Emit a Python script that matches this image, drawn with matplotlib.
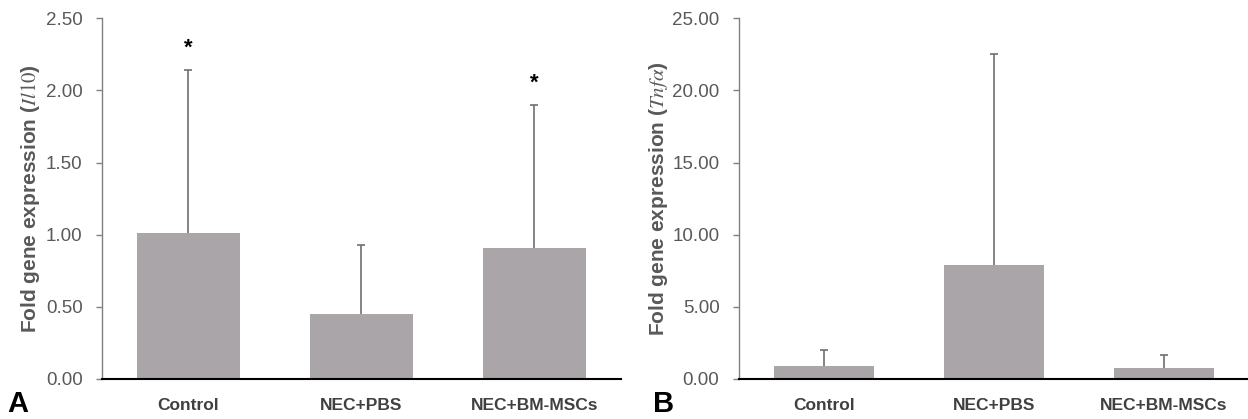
import matplotlib
matplotlib.use('Agg')
import matplotlib.pyplot as plt
import numpy as np

# Data
groups = ['Control', 'NEC+PBS', 'NEC+BM-MSCs']

il10_mean = [1.01, 0.45, 0.91]
il10_upper = [2.14, 0.93, 1.90]
il10_star = [2.29, None, 2.05]
il10_ticks = [0.0, 0.5, 1.0, 1.5, 2.0, 2.5]

tnfa_mean = [0.92, 7.92, 0.78]
tnfa_upper = [2.00, 22.49, 1.66]
tnfa_ticks = [0.0, 5.0, 10.0, 15.0, 20.0, 25.0]

plt.rcParams['font.family'] = ['Liberation Sans', 'DejaVu Sans']
plt.rcParams['mathtext.fontset'] = 'stix'

bar_color = '#a9a5a8'
err_color = '#707070'
tick_color = '#595959'
label_color = '#404040'

fig = plt.figure(figsize=(12.48, 4.19), dpi=100)
ax1 = fig.add_axes([0.0817, 0.0955, 0.4159, 0.861])
ax2 = fig.add_axes([0.5921, 0.0955, 0.4087, 0.861])


def draw_panel(ax, means, upper, ticks, ylabel, stars=None):
    x = np.arange(len(groups))
    ax.bar(x, means, width=0.59, color=bar_color, zorder=2)
    lower_err = np.zeros(len(means))
    upper_err = np.array(upper) - np.array(means)
    eb = ax.errorbar(x, means, yerr=[lower_err, upper_err], fmt='none',
                     ecolor=err_color, elinewidth=1.2, capsize=2.6,
                     capthick=1.2, zorder=3)
    # only the upper cap is shown
    eb[1][0].set_visible(False)
    if stars is not None:
        for xi, s in zip(x, stars):
            if s is not None:
                ax.text(xi, s, '*', ha='center', va='center', fontsize=16,
                        fontweight='bold', color='black')
    ax.set_xlim(-0.5, 2.5)
    ax.set_ylim(ticks[0], ticks[-1])
    ax.set_yticks(ticks)
    ax.set_yticklabels(['%.2f' % t for t in ticks], fontsize=13.5, color=tick_color)
    ax.set_xticks(x)
    ax.set_xticklabels(groups, fontsize=12.5, fontweight='bold', color=label_color)
    ax.tick_params(axis='x', length=0, pad=14)
    ax.tick_params(axis='y', length=4, width=1, color='#808080', pad=10)
    ax.spines['top'].set_visible(False)
    ax.spines['right'].set_visible(False)
    ax.spines['left'].set_color('#808080')
    ax.spines['left'].set_linewidth(1.0)
    ax.spines['bottom'].set_color('black')
    ax.spines['bottom'].set_linewidth(1.5)
    ax.spines['bottom'].set_zorder(4)
    ax.set_ylabel(ylabel, fontsize=15, fontweight='bold', color=tick_color)


draw_panel(ax1, il10_mean, il10_upper, il10_ticks,
           r'Fold gene expression ($\mathit{Il10}$)', stars=il10_star)
ax1.yaxis.set_label_coords(-0.116, 0.5)

draw_panel(ax2, tnfa_mean, tnfa_upper, tnfa_ticks,
           r'Fold gene expression ($\mathit{Tnf\alpha}$)')
ax2.yaxis.set_label_coords(-0.135, 0.5)

fig.text(7 / 1248, 1 - 412 / 419, 'A', fontsize=21, fontweight='bold',
         color='black', ha='left', va='baseline')
fig.text(653 / 1248, 1 - 412 / 419, 'B', fontsize=21, fontweight='bold',
         color='black', ha='left', va='baseline')

fig.savefig('out.png', dpi=100)
